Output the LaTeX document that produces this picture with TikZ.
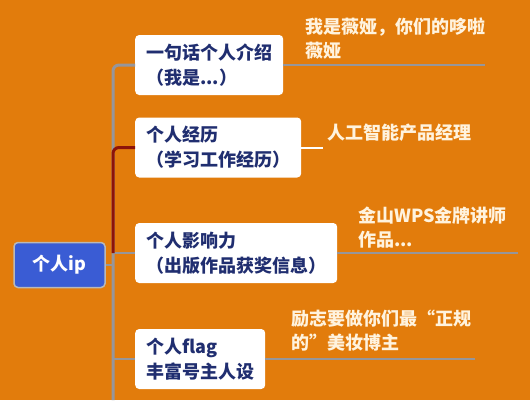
\documentclass[tikz,border=0pt]{standalone}
\usepackage{fontspec}
\setmainfont{Noto Sans CJK SC}
\definecolor{bgorange}{RGB}{226,124,12}
\definecolor{ipblue}{RGB}{58,92,212}
\definecolor{topicnavy}{RGB}{32,46,112}
\definecolor{notecream}{RGB}{255,243,222}
\definecolor{linegray}{RGB}{150,150,155}
\definecolor{linered}{RGB}{140,18,10}

\begin{document}
\begin{tikzpicture}[x=1pt, y=-1pt,
rootnode/.style={rectangle, rounded corners=4pt, draw=gray!55, line width=1.5pt, fill=ipblue, text=white, minimum width=91pt, minimum height=45pt, font=\bfseries\fontsize{18}{24}\selectfont},
topicnode/.style={rectangle, rounded corners=4pt, fill=white, text=topicnavy, align=left, anchor=west, inner xsep=11pt, minimum height=60pt, font=\bfseries\fontsize{18}{25}\selectfont},
notenode/.style={align=left, anchor=west, inner sep=0pt, text=notecream, font=\bfseries\fontsize{18}{24}\selectfont},
]
\fill[bgorange] (0,0) rectangle (530,400);
\useasboundingbox (0,0) rectangle (530,400);

\node[rootnode] at(59.5,265) (ip) {个人ip};
\node[topicnode] at(135,65) (intro) {一句话个人介绍\\（我是...）};
\node[topicnode] at(135,147.5) (career) {个人经历\\（学习工作经历）};
\node[topicnode] at(135,253) (influence) {个人影响力\\（出版作品获奖信息）};
\node[topicnode] at(135,359) (flag) {个人flag\\丰富号主人设};

\node[notenode] at(305,39) (intro note) {我是薇娅，你们的哆啦\\薇娅};
\node[notenode] at(327,133) (career note) {人工智能产品经理};
\node[notenode] at(358,228) (influence note) {金山WPS金牌讲师\\作品...};
\node[notenode] at(291,331) (flag note) {励志要做你们最“正规\\的”美妆博主};

\coordinate (trunk end) at (113,400);
\coordinate (intro end) at (485,65);
\coordinate (career end) at (323,147.5);
\coordinate (influence end) at (518,253);
\coordinate (flag end) at (475,359);

\draw[linegray, line width=3pt, rounded corners=6pt] (intro.west) -| (trunk end);
\draw[linegray, line width=2pt] (ip.east) -- (ip.east -| trunk end);
\draw[linegray, line width=2pt] (influence.west) -- (influence.west -| trunk end);
\draw[linegray, line width=2pt] (flag.west) -- (flag.west -| trunk end);
\draw[linered, line width=3pt, rounded corners=6pt] (career.west) -| (influence.west -| trunk end);

\draw[linegray, line width=1.5pt] (intro.east) -- (intro end);
\draw[white, line width=2pt] (career.east) -- (career end);
\draw[linegray, line width=1.5pt] (influence.east) -- (influence end);
\draw[linegray, line width=1.5pt] (flag.east) -- (flag end);

\end{tikzpicture}
\end{document}
